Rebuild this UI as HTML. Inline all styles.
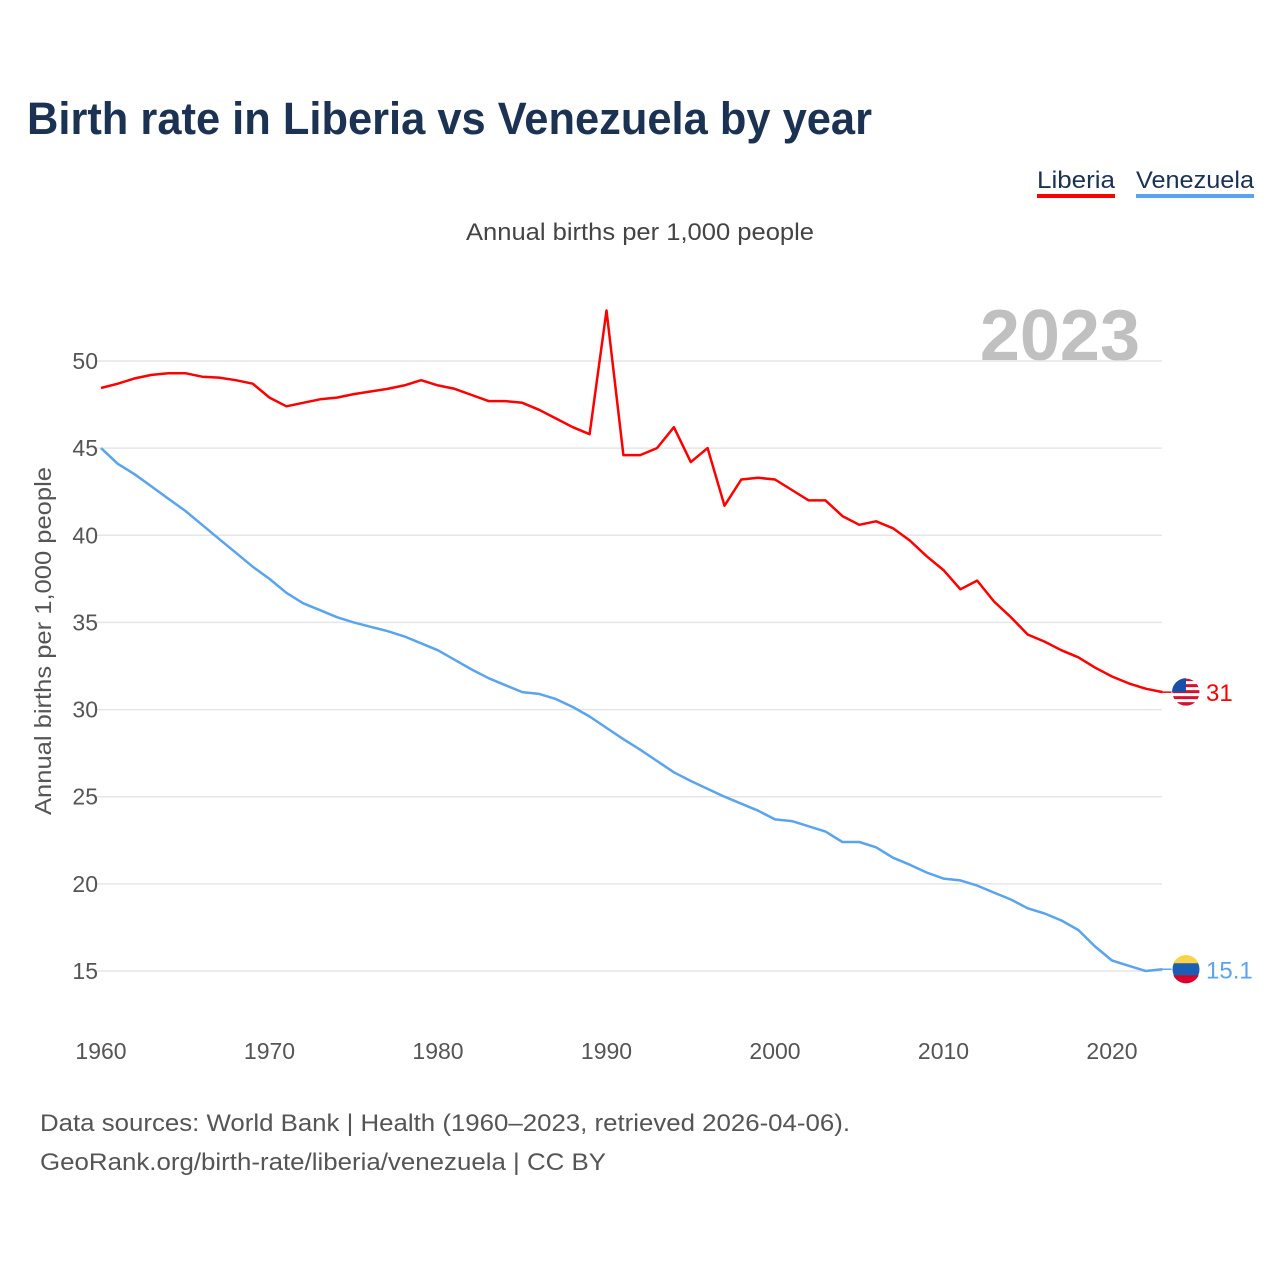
<!DOCTYPE html>
<html><head><meta charset="utf-8">
<style>
body{margin:0;background:#fff;font-family:"Liberation Sans",sans-serif;}
#wrap{position:relative;width:1280px;height:1280px;overflow:hidden;}
</style></head>
<body>
<div id="wrap">
<svg id="chart" width="1280" height="1280" xmlns="http://www.w3.org/2000/svg">
<text x="27" y="134" font-size="45" font-weight="bold" fill="#1b3252" textLength="845" lengthAdjust="spacingAndGlyphs">Birth rate in Liberia vs Venezuela by year</text>
<g><text x="1037" y="188" font-size="24" fill="#1b3252" textLength="78" lengthAdjust="spacingAndGlyphs">Liberia</text><rect x="1037" y="194" width="78" height="4" fill="#ff0000"/></g>
<g><text x="1136" y="188" font-size="24" fill="#1b3252" textLength="118" lengthAdjust="spacingAndGlyphs">Venezuela</text><rect x="1136" y="194" width="118" height="4" fill="#5aa4ee"/></g>
<text x="466" y="240" font-size="24" fill="#444" textLength="348" lengthAdjust="spacingAndGlyphs">Annual births per 1,000 people</text>
<text x="1140" y="360" font-size="72" font-weight="bold" fill="#c0c0c0" text-anchor="end">2023</text>
<text transform="translate(51,815) rotate(-90)" font-size="23" fill="#555" textLength="348" lengthAdjust="spacingAndGlyphs">Annual births per 1,000 people</text>
<g id="grid"></g><g id="yticks"></g><g id="xticks"></g><g id="lines"></g>
<text x="40" y="1131" font-size="24" fill="#555" textLength="810" lengthAdjust="spacingAndGlyphs">Data sources: World Bank | Health (1960–2023, retrieved 2026-04-06).</text>
<text x="40" y="1170" font-size="24" fill="#555" textLength="566" lengthAdjust="spacingAndGlyphs">GeoRank.org/birth-rate/liberia/venezuela | CC BY</text>
</svg>
</div>
<script>
const years = [];for(let y=1960;y<=2023;y++)years.push(y);
const liberia = [48.45,48.7,49.0,49.2,49.3,49.3,49.1,49.05,48.9,48.7,47.9,47.4,47.6,47.8,47.9,48.1,48.25,48.4,48.6,48.9,48.6,48.4,48.05,47.7,47.7,47.6,47.2,46.7,46.2,45.8,52.9,44.6,44.6,45.0,46.2,44.2,45.0,41.7,43.2,43.3,43.2,42.6,42.0,42.0,41.1,40.6,40.8,40.4,39.7,38.8,38.0,36.9,37.4,36.2,35.3,34.3,33.9,33.4,33.0,32.4,31.9,31.5,31.2,31.0];
const venezuela = [45.0,44.1,43.5,42.8,42.1,41.4,40.6,39.8,39.0,38.2,37.5,36.7,36.1,35.7,35.3,35.0,34.75,34.5,34.2,33.8,33.4,32.85,32.3,31.8,31.4,31.0,30.9,30.6,30.15,29.6,28.95,28.3,27.7,27.05,26.4,25.9,25.45,25.0,24.6,24.2,23.7,23.6,23.3,23.0,22.4,22.4,22.1,21.5,21.1,20.65,20.3,20.2,19.9,19.5,19.1,18.6,18.3,17.9,17.35,16.4,15.6,15.3,15.0,15.1];
const yTicks = [15,20,25,30,35,40,45,50];
const xTicks = [1960,1970,1980,1990,2000,2010,2020];
const NS='http://www.w3.org/2000/svg';
const X=y=>101+(y-1960)*(1112-101)/60;
const Y=v=>361+(50-v)*(971-361)/35;
function mk(t,a,p){const e=document.createElementNS(NS,t);for(const k in a)e.setAttribute(k,a[k]);p.appendChild(e);return e;}
const grid=document.getElementById('grid'),yt=document.getElementById('yticks'),xt=document.getElementById('xticks'),ln=document.getElementById('lines');
yTicks.forEach(v=>{
 const g=mk('line',{x1:96,x2:1162,y1:Y(v),y2:Y(v),stroke:'#e6e6e6','stroke-width':1.5},grid);
 
 
 const t=mk('text',{x:98,y:Y(v)+8,'font-size':23,fill:'#555','text-anchor':'end'},yt);t.textContent=v;
 
 
});
xTicks.forEach(v=>{
 const t=mk('text',{x:X(v),y:1059,'font-size':23,fill:'#555','text-anchor':'middle'},xt);t.textContent=v;
 
 
});
function series(vals,color,name,label){
 const d=vals.map((v,i)=>(i?'L':'M')+X(years[i]).toFixed(1)+' '+Y(v).toFixed(1)).join(' ');
 const p=mk('path',{d:d,fill:'none',stroke:color,'stroke-width':2.5,'stroke-linejoin':'round'},ln);
 
 
 const last=vals[vals.length-1],ly=Y(last);
 mk('line',{x1:X(2023),x2:1175,y1:ly,y2:ly,stroke:color,'stroke-width':1.5},ln);
 const c=mk('circle',{cx:1186,cy:ly,r:14,fill:name==='liberia'?'#d8102e':'#1a5fb4',stroke:'#fff','stroke-width':1},ln);
 
 
 if(name==='liberia'){
  for(let k=0;k<4;k++)mk('rect',{x:1172,y:ly-11+k*6,width:28,height:3,fill:'#fff'},ln);
  mk('path',{d:`M1172 ${ly} L1186 ${ly} L1186 ${ly-14} A14 14 0 0 0 1172 ${ly}Z`,fill:'#1a4fa8'},ln);
 }else{
  mk('path',{d:`M1173.3 ${ly-6} A14 14 0 0 1 1198.7 ${ly-6}Z`,fill:'#f9d447'},ln);
  mk('path',{d:`M1173.3 ${ly+6} A14 14 0 0 0 1198.7 ${ly+6}Z`,fill:'#d9002c'},ln);
 }
 const t=mk('text',{x:1206,y:ly+9,'font-size':24,fill:color},ln);t.textContent=label;
 
 
}
series(liberia,'#ff0000','liberia','31');
series(venezuela,'#5aa4ee','venezuela','15.1');
</script>
</body></html>
